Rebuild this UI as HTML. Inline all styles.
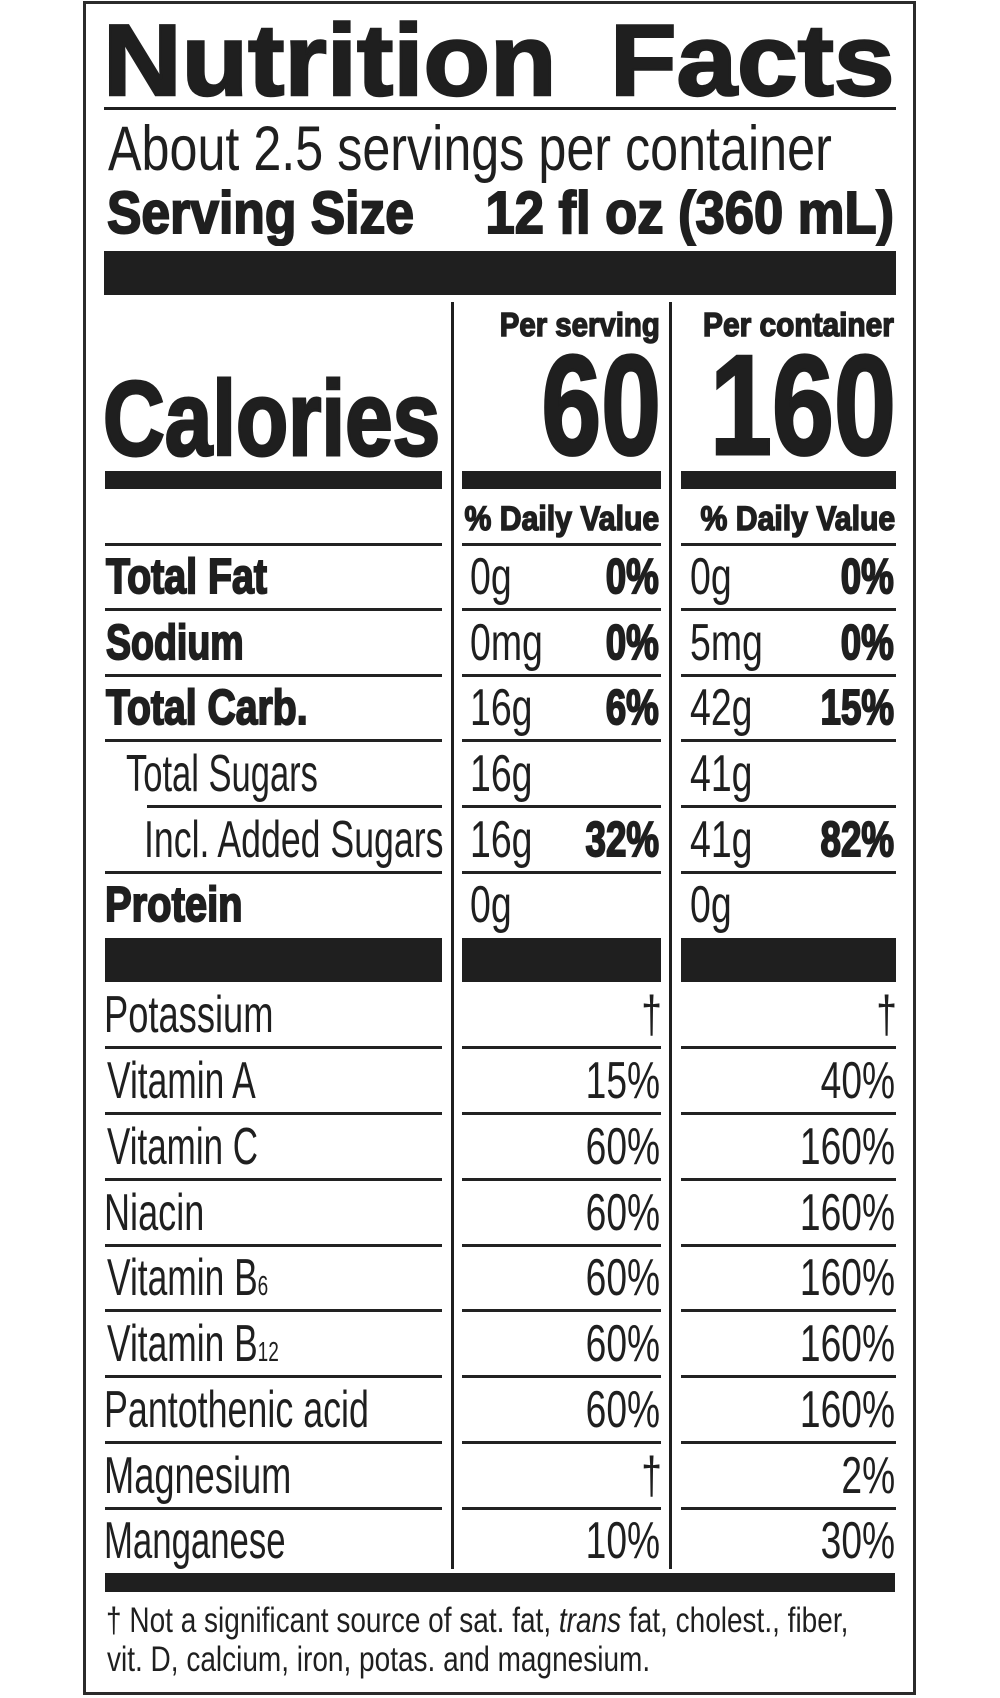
<!DOCTYPE html>
<html>
<head>
<meta charset="utf-8">
<style>
  html, body { margin:0; padding:0; background:#fff; }
  body { position:relative; width:1000px; height:1698px; overflow:hidden; }
  .t { position:absolute; white-space:nowrap; line-height:1; font-family:"Liberation Sans", Arial, sans-serif; color:#1f1f1f; font-variant-ligatures:none; font-kerning:normal; }
  .L { transform-origin:0 0; }
  .R { transform-origin:100% 0; }
  .b { font-weight:bold; }
  .s2 { -webkit-text-stroke:2px #1f1f1f; }
  .s15 { -webkit-text-stroke:1.5px #1f1f1f; }
  .s3 { -webkit-text-stroke:3px #1f1f1f; }
  .r52 { font-size:52px; }
  .b49 { font-size:49px; font-weight:bold; -webkit-text-stroke:2px #1f1f1f; }
  .k { position:absolute; background:#1f1f1f; }
  .ln { position:absolute; background:#222; height:3px; }
</style>
</head>
<body>
<!-- outer border -->
<div style="position:absolute;left:83px;top:1px;width:827px;height:1688px;border:3px solid #2b2b2b;"></div>

<!-- title -->
<div class="t L b" style="left:103.3px;top:10.5px;font-size:101px;-webkit-text-stroke:2.4px #1f1f1f;transform:scaleX(1.078);">Nutrition</div>
<div class="t L b" style="left:610.3px;top:10.5px;font-size:101px;-webkit-text-stroke:2.4px #1f1f1f;transform:scaleX(1.078);">Facts</div>
<div class="k" style="left:104px;top:107px;width:792px;height:3px;"></div>

<div class="t L" style="left:108px;top:117.7px;font-size:63px;transform:scaleX(0.798);">About 2.5 servings per container</div>
<div class="t L b s2" style="left:106.9px;top:184.1px;font-size:59px;transform:scaleX(0.875);">Serving Size</div>
<div class="t R b s2" style="right:106.3px;top:184.1px;font-size:59px;transform:scaleX(0.89);">12 fl oz (360 mL)</div>

<div class="k" style="left:104px;top:251px;width:792px;height:44px;"></div>

<!-- dividers -->
<div class="k" style="left:451px;top:302px;width:3px;height:1267px;"></div>
<div class="k" style="left:669px;top:302px;width:3px;height:1267px;"></div>

<!-- calories block -->
<div class="t R b s15" style="right:340.3px;top:308.3px;font-size:33px;transform:scaleX(0.89);">Per serving</div>
<div class="t R b s15" style="right:106.4px;top:308.3px;font-size:33px;transform:scaleX(0.905);">Per container</div>
<div class="t L b s3" style="left:103.2px;top:365.8px;font-size:106px;transform:scaleX(0.806);">Calories</div>
<div class="t R b s3" style="right:339.2px;top:335.3px;font-size:142px;transform:scaleX(0.757);">60</div>
<div class="t R b s3" style="right:104.2px;top:335.3px;font-size:142px;transform:scaleX(0.785);">160</div>

<div class="k" style="left:105px;top:471px;width:337px;height:18px;"></div>
<div class="k" style="left:462px;top:471px;width:199px;height:18px;"></div>
<div class="k" style="left:681px;top:471px;width:215px;height:18px;"></div>

<div class="t R b s15" style="right:340.8px;top:501.5px;font-size:34px;transform:scaleX(0.888);">% Daily Value</div>
<div class="t R b s15" style="right:104.8px;top:501.5px;font-size:34px;transform:scaleX(0.888);">% Daily Value</div>

<!-- thin lines upper section -->
<div class="ln" style="left:105px;top:543px;width:337px;"></div>
<div class="ln" style="left:462px;top:543px;width:199px;"></div>
<div class="ln" style="left:681px;top:543px;width:215px;"></div>

<div class="ln" style="left:105px;top:608px;width:337px;"></div>
<div class="ln" style="left:462px;top:608px;width:199px;"></div>
<div class="ln" style="left:681px;top:608px;width:215px;"></div>

<div class="ln" style="left:105px;top:674px;width:337px;"></div>
<div class="ln" style="left:462px;top:674px;width:199px;"></div>
<div class="ln" style="left:681px;top:674px;width:215px;"></div>

<div class="ln" style="left:105px;top:739px;width:337px;"></div>
<div class="ln" style="left:462px;top:739px;width:199px;"></div>
<div class="ln" style="left:681px;top:739px;width:215px;"></div>

<div class="ln" style="left:147px;top:805px;width:295px;"></div>
<div class="ln" style="left:462px;top:805px;width:199px;"></div>
<div class="ln" style="left:681px;top:805px;width:215px;"></div>

<div class="ln" style="left:105px;top:871px;width:337px;"></div>
<div class="ln" style="left:462px;top:871px;width:199px;"></div>
<div class="ln" style="left:681px;top:871px;width:215px;"></div>

<!-- protein bar -->
<div class="k" style="left:105px;top:938px;width:337px;height:44px;"></div>
<div class="k" style="left:462px;top:938px;width:199px;height:44px;"></div>
<div class="k" style="left:681px;top:938px;width:215px;height:44px;"></div>

<!-- lower thin lines -->
<div class="ln" style="left:105px;top:1046px;width:337px;"></div>
<div class="ln" style="left:462px;top:1046px;width:199px;"></div>
<div class="ln" style="left:681px;top:1046px;width:215px;"></div>

<div class="ln" style="left:105px;top:1112px;width:337px;"></div>
<div class="ln" style="left:462px;top:1112px;width:199px;"></div>
<div class="ln" style="left:681px;top:1112px;width:215px;"></div>

<div class="ln" style="left:105px;top:1178px;width:337px;"></div>
<div class="ln" style="left:462px;top:1178px;width:199px;"></div>
<div class="ln" style="left:681px;top:1178px;width:215px;"></div>

<div class="ln" style="left:105px;top:1244px;width:337px;"></div>
<div class="ln" style="left:462px;top:1244px;width:199px;"></div>
<div class="ln" style="left:681px;top:1244px;width:215px;"></div>

<div class="ln" style="left:105px;top:1309px;width:337px;"></div>
<div class="ln" style="left:462px;top:1309px;width:199px;"></div>
<div class="ln" style="left:681px;top:1309px;width:215px;"></div>

<div class="ln" style="left:105px;top:1375px;width:337px;"></div>
<div class="ln" style="left:462px;top:1375px;width:199px;"></div>
<div class="ln" style="left:681px;top:1375px;width:215px;"></div>

<div class="ln" style="left:105px;top:1441px;width:337px;"></div>
<div class="ln" style="left:462px;top:1441px;width:199px;"></div>
<div class="ln" style="left:681px;top:1441px;width:215px;"></div>

<div class="ln" style="left:105px;top:1507px;width:337px;"></div>
<div class="ln" style="left:462px;top:1507px;width:199px;"></div>
<div class="ln" style="left:681px;top:1507px;width:215px;"></div>

<!-- bottom bar -->
<div class="k" style="left:105px;top:1573px;width:790px;height:19px;"></div>

<!-- Row labels (bold) -->
<div class="t L b49" style="left:106.2px;top:552.5px;transform:scaleX(0.803);">Total Fat</div>
<div class="t L b49" style="left:105.5px;top:618.5px;transform:scaleX(0.766);">Sodium</div>
<div class="t L b49" style="left:106.2px;top:683.5px;transform:scaleX(0.799);">Total Carb.</div>
<div class="t L b49" style="left:105.2px;top:880.5px;transform:scaleX(0.815);">Protein</div>

<!-- Row labels (regular) -->
<div class="t L r52" style="left:126.3px;top:748px;transform:scaleX(0.664);">Total Sugars</div>
<div class="t L r52" style="left:143.6px;top:814px;transform:scaleX(0.686);">Incl. Added Sugars</div>
<div class="t L r52" style="left:104.2px;top:989px;transform:scaleX(0.698);">Potassium</div>
<div class="t L r52" style="left:107px;top:1055px;transform:scaleX(0.68);">Vitamin A</div>
<div class="t L r52" style="left:107px;top:1121px;transform:scaleX(0.673);">Vitamin C</div>
<div class="t L r52" style="left:104.2px;top:1187px;transform:scaleX(0.694);">Niacin</div>
<div class="t L r52" style="left:107px;top:1252px;transform:scaleX(0.68);">Vitamin B<span style="font-size:28px;">6</span></div>
<div class="t L r52" style="left:107px;top:1318px;transform:scaleX(0.68);">Vitamin B<span style="font-size:28px;">12</span></div>
<div class="t L r52" style="left:104.2px;top:1384px;transform:scaleX(0.689);">Pantothenic acid</div>
<div class="t L r52" style="left:104.3px;top:1450px;transform:scaleX(0.697);">Magnesium</div>
<div class="t L r52" style="left:104.4px;top:1515px;transform:scaleX(0.668);">Manganese</div>

<!-- amounts (regular, left aligned) -->
<div class="t L r52" style="left:470px;top:551px;transform:scaleX(0.72);">0g</div>
<div class="t L r52" style="left:690px;top:551px;transform:scaleX(0.72);">0g</div>
<div class="t L r52" style="left:470px;top:617px;transform:scaleX(0.72);">0mg</div>
<div class="t L r52" style="left:690px;top:617px;transform:scaleX(0.72);">5mg</div>
<div class="t L r52" style="left:470px;top:682px;transform:scaleX(0.72);">16g</div>
<div class="t L r52" style="left:690px;top:682px;transform:scaleX(0.72);">42g</div>
<div class="t L r52" style="left:470px;top:748px;transform:scaleX(0.72);">16g</div>
<div class="t L r52" style="left:690px;top:748px;transform:scaleX(0.72);">41g</div>
<div class="t L r52" style="left:470px;top:814px;transform:scaleX(0.72);">16g</div>
<div class="t L r52" style="left:690px;top:814px;transform:scaleX(0.72);">41g</div>
<div class="t L r52" style="left:470px;top:879px;transform:scaleX(0.72);">0g</div>
<div class="t L r52" style="left:690px;top:879px;transform:scaleX(0.72);">0g</div>

<!-- bold percents -->
<div class="t R b49" style="right:341px;top:552.5px;transform:scaleX(0.75);">0%</div>
<div class="t R b49" style="right:106px;top:552.5px;transform:scaleX(0.75);">0%</div>
<div class="t R b49" style="right:341px;top:618.5px;transform:scaleX(0.75);">0%</div>
<div class="t R b49" style="right:106px;top:618.5px;transform:scaleX(0.75);">0%</div>
<div class="t R b49" style="right:341px;top:683.5px;transform:scaleX(0.75);">6%</div>
<div class="t R b49" style="right:106px;top:683.5px;transform:scaleX(0.75);">15%</div>
<div class="t R b49" style="right:341px;top:815.5px;transform:scaleX(0.75);">32%</div>
<div class="t R b49" style="right:106px;top:815.5px;transform:scaleX(0.75);">82%</div>

<!-- vitamin / mineral percents -->
<div class="t R r52" style="right:338px;top:989px;transform:scaleX(0.715);">†</div>
<div class="t R r52" style="right:103px;top:989px;transform:scaleX(0.715);">†</div>
<div class="t R r52" style="right:340px;top:1055px;transform:scaleX(0.715);">15%</div>
<div class="t R r52" style="right:105px;top:1055px;transform:scaleX(0.715);">40%</div>
<div class="t R r52" style="right:340px;top:1121px;transform:scaleX(0.715);">60%</div>
<div class="t R r52" style="right:105px;top:1121px;transform:scaleX(0.715);">160%</div>
<div class="t R r52" style="right:340px;top:1187px;transform:scaleX(0.715);">60%</div>
<div class="t R r52" style="right:105px;top:1187px;transform:scaleX(0.715);">160%</div>
<div class="t R r52" style="right:340px;top:1252px;transform:scaleX(0.715);">60%</div>
<div class="t R r52" style="right:105px;top:1252px;transform:scaleX(0.715);">160%</div>
<div class="t R r52" style="right:340px;top:1318px;transform:scaleX(0.715);">60%</div>
<div class="t R r52" style="right:105px;top:1318px;transform:scaleX(0.715);">160%</div>
<div class="t R r52" style="right:340px;top:1384px;transform:scaleX(0.715);">60%</div>
<div class="t R r52" style="right:105px;top:1384px;transform:scaleX(0.715);">160%</div>
<div class="t R r52" style="right:338px;top:1450px;transform:scaleX(0.715);">†</div>
<div class="t R r52" style="right:105px;top:1450px;transform:scaleX(0.715);">2%</div>
<div class="t R r52" style="right:340px;top:1515px;transform:scaleX(0.715);">10%</div>
<div class="t R r52" style="right:105px;top:1515px;transform:scaleX(0.715);">30%</div>

<!-- footnote -->
<div class="t L" style="left:105.5px;top:1603.4px;font-size:35px;transform:scaleX(0.80);">† Not a significant source of sat. fat, <i>trans</i> fat, cholest., fiber,</div>
<div class="t L" style="left:107px;top:1642.4px;font-size:35px;transform:scaleX(0.80);">vit. D, calcium, iron, potas. and magnesium.</div>
</body>
</html>
